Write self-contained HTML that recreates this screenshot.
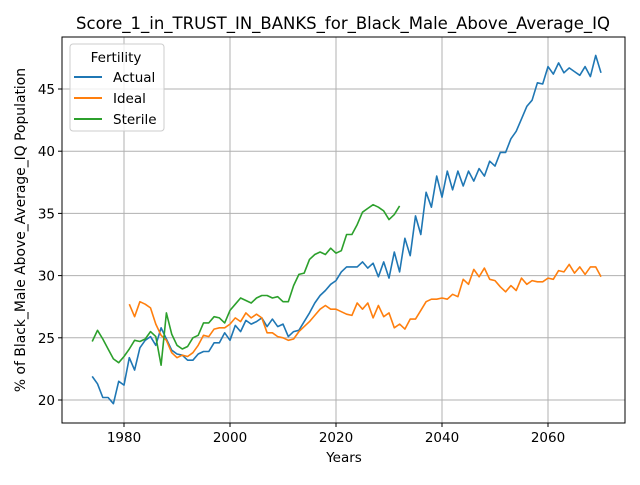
<!DOCTYPE html>
<html><head><meta charset="utf-8"><style>
body{margin:0;background:#fff}
svg{font-family:"DejaVu Sans","Liberation Sans",sans-serif}
</style></head><body>
<svg id="chart" width="640" height="480" xmlns="http://www.w3.org/2000/svg">
<rect width="640" height="480" fill="#fff"/>
<text x="343" y="29" font-size="16.5" text-anchor="middle">Score_1_in_TRUST_IN_BANKS_for_Black_Male_Above_Average_IQ</text>
<g id="grid"></g>
<g id="series"></g>
<rect x="62" y="37" width="563" height="386" fill="none" stroke="#000" stroke-width="1"/>
<g id="ticks" font-size="13.5"></g>
<text x="344" y="462" font-size="13.5" text-anchor="middle">Years</text>
<text transform="translate(25,230) rotate(-90)" font-size="13.9" text-anchor="middle">% of Black_Male Above_Average_IQ Population</text>
<g>
<rect x="70" y="44" width="94" height="87" rx="3" fill="#fff" fill-opacity="0.8" stroke="#ccc"/>
<text x="116" y="62" font-size="13.5" text-anchor="middle">Fertility</text>
<g><line x1="74" y1="77" x2="102" y2="77" stroke="#1f77b4" stroke-width="2"/><text x="113" y="82" font-size="13.5">Actual</text></g>
<g><line x1="74" y1="98" x2="102" y2="98" stroke="#ff7f0e" stroke-width="2"/><text x="113" y="103" font-size="13.5">Ideal</text></g>
<g><line x1="74" y1="119" x2="102" y2="119" stroke="#2ca02c" stroke-width="2"/><text x="113" y="124" font-size="13.5">Sterile</text></g>
</g>
</svg>
<script>
const xTicks=[1980,2000,2020,2040,2060];
const yTicks=[20,25,30,35,40,45];
const actualStart=1974;
const actual=[21.9,21.3,20.2,20.2,19.7,21.5,21.2,23.4,22.4,24.2,24.8,25.1,24.4,25.8,24.9,24.0,23.7,23.6,23.2,23.2,23.7,23.9,23.9,24.6,24.6,25.4,24.8,26.0,25.5,26.4,26.1,26.3,26.6,25.9,26.5,25.9,26.1,25.1,25.5,25.6,26.3,27.0,27.8,28.4,28.8,29.3,29.6,30.3,30.7,30.7,30.7,31.1,30.6,31.0,29.9,31.1,29.8,31.9,30.3,33.0,31.6,34.8,33.3,36.7,35.5,38.0,36.3,38.4,36.9,38.4,37.2,38.4,37.6,38.6,38.0,39.2,38.8,39.9,39.9,41.0,41.6,42.6,43.6,44.1,45.5,45.4,46.8,46.2,47.1,46.3,46.7,46.4,46.1,46.8,46.0,47.7,46.3];
const idealStart=1981;
const ideal=[27.7,26.7,27.9,27.7,27.4,26.1,25.2,24.8,23.8,23.4,23.6,23.5,23.8,24.4,25.2,25.1,25.7,25.8,25.8,26.1,26.6,26.3,27.0,26.6,26.9,26.6,25.4,25.4,25.1,25.0,24.8,24.9,25.5,25.9,26.3,26.8,27.3,27.6,27.3,27.3,27.1,26.9,26.8,27.8,27.3,27.8,26.6,27.6,26.7,27.0,25.8,26.1,25.7,26.5,26.5,27.2,27.9,28.1,28.1,28.2,28.1,28.5,28.3,29.7,29.3,30.5,29.9,30.6,29.7,29.6,29.1,28.7,29.2,28.8,29.8,29.3,29.6,29.5,29.5,29.8,29.7,30.4,30.3,30.9,30.2,30.7,30.1,30.7,30.7,29.9];
const sterileStart=1974;
const sterile=[24.7,25.6,24.9,24.1,23.3,23.0,23.5,24.1,24.8,24.7,24.9,25.5,25.1,22.8,27.0,25.3,24.4,24.1,24.3,25.0,25.2,26.2,26.2,26.7,26.6,26.2,27.2,27.7,28.2,28.0,27.8,28.2,28.4,28.4,28.2,28.3,27.9,27.9,29.2,30.1,30.2,31.3,31.7,31.9,31.7,32.2,31.8,32.0,33.3,33.3,34.1,35.1,35.4,35.7,35.5,35.2,34.5,34.9,35.6];
const NS="http://www.w3.org/2000/svg";
function xs(yr){return 124+(yr-1980)*5.3;}
function ys(v){return 400-(v-20)*12.44;}
function mk(t,a,p){const e=document.createElementNS(NS,t);for(const k in a)e.setAttribute(k,a[k]);p.appendChild(e);return e;}
const grid=document.getElementById('grid'),ticks=document.getElementById('ticks'),ser=document.getElementById('series');
xTicks.forEach(t=>{const x=xs(t);
 const g=mk('line',{x1:x,x2:x,y1:37,y2:423,stroke:'#b0b0b0','stroke-width':1},grid);
 
 
 mk('line',{x1:x,x2:x,y1:423,y2:427,stroke:'#000'},ticks);
 const l=mk('text',{x:x,y:442,'text-anchor':'middle'},ticks);l.textContent=t;
 
 
});
yTicks.forEach(t=>{const y=ys(t);
 const g=mk('line',{x1:62,x2:625,y1:y,y2:y,stroke:'#b0b0b0','stroke-width':1},grid);
 
 
 mk('line',{x1:58,x2:62,y1:y,y2:y,stroke:'#000'},ticks);
 const l=mk('text',{x:55,y:y+5,'text-anchor':'end'},ticks);l.textContent=t;
 
 
});
function draw(arr,start,color,name){
 const pts=arr.map((v,i)=>xs(start+i).toFixed(1)+','+ys(v).toFixed(1)).join(' ');
 const p=mk('polyline',{points:pts,fill:'none',stroke:color,'stroke-width':1.6,'stroke-linejoin':'round'},ser);
 
 
}
draw(actual,actualStart,'#1f77b4','actual-line');
draw(ideal,idealStart,'#ff7f0e','ideal-line');
draw(sterile,sterileStart,'#2ca02c','sterile-line');
</script>
</body></html>
